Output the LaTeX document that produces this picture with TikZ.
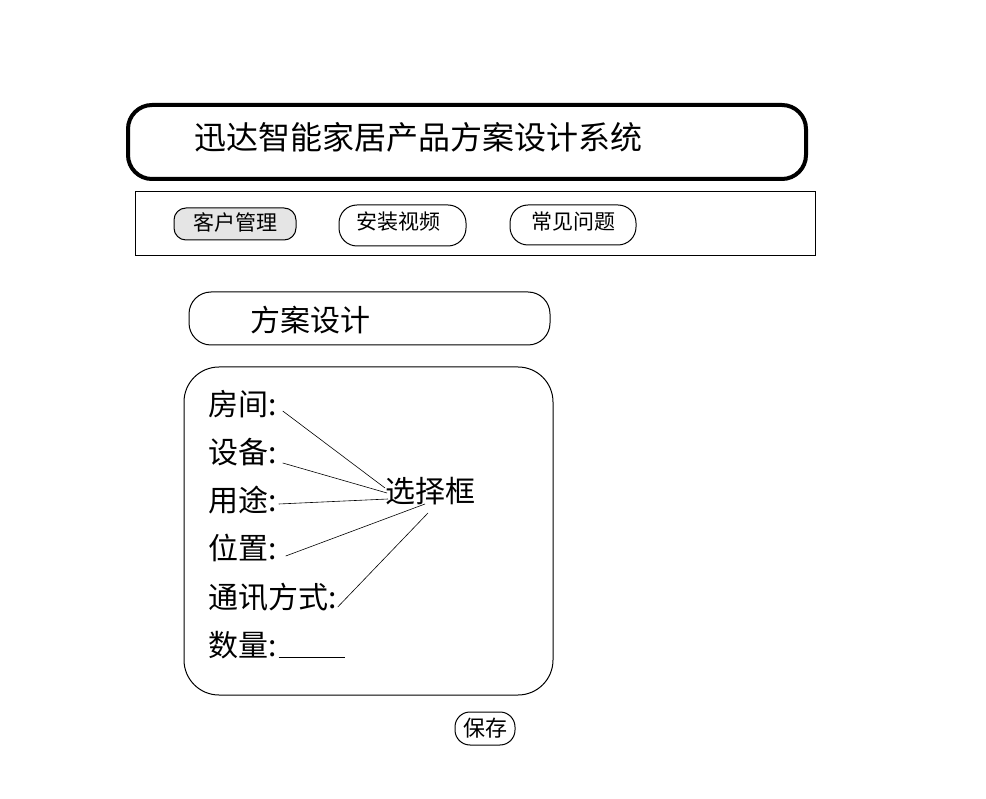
\documentclass[tikz,border=0pt]{standalone}
\usepackage{fontspec}
\newfontfamily\cjk{Noto Sans CJK SC}
\tikzset{
  btn/.style={draw=black, line width=1pt, rounded corners=#1},
  lbl/.style={font=\cjk\fontsize{30}{32}\selectfont, anchor=west, inner sep=0pt},
  link/.style={draw=black, line width=0.6pt},
}
\begin{document}
\begin{tikzpicture}[x=1pt,y=-1pt]
\useasboundingbox (0,0) rectangle (986,799);
% title
\draw[line width=4pt, rounded corners=24pt] (128,105) rectangle (806,179);
\node[anchor=west, inner sep=0pt, font=\cjk\fontsize{32}{34}\selectfont] (title) at (194,137) {迅达智能家居产品方案设计系统};
% nav bar
\draw[line width=0.8pt] (135,191) rectangle (815,255);
\draw[btn=12pt, fill=black!10] (174,208) rectangle (296,240);
\node[inner sep=0pt, font=\cjk\fontsize{21}{23}\selectfont] (b1) at (235,222) {客户管理};
\draw[btn=18pt] (339,205) rectangle (466,246);
\node[inner sep=0pt, font=\cjk\fontsize{21}{23}\selectfont] (b2) at (398,222) {安装视频};
\draw[btn=18pt] (510,205) rectangle (636,245);
\node[inner sep=0pt, font=\cjk\fontsize{21}{23}\selectfont] (b3) at (573,222) {常见问题};
% design header
\draw[btn=22pt] (189,292) rectangle (550,345);
\node[anchor=west, inner sep=0pt, font=\cjk\fontsize{30}{32}\selectfont] (hd) at (250,320) {方案设计};
% form
\draw[btn=35pt] (184,367) rectangle (553,695);
\node[lbl] (l1) at (208,404) {房间:};
\node[lbl] (l2) at (208,452) {设备:};
\node[lbl] (l3) at (208,500) {用途:};
\node[lbl] (l4) at (208,548) {位置:};
\node[lbl] (l5) at (208,597) {通讯方式:};
\node[lbl] (l6) at (208,645) {数量:};
\node[inner sep=0pt, font=\cjk\fontsize{30}{32}\selectfont] (sel) at (430,491) {选择框};
\draw[link] ([shift={(6,7)}]l1.east) -- ([shift={(-45,-3)}]sel.center);
\draw[link] ([shift={(6,11)}]l2.east) -- ([shift={(-43,2)}]sel.center);
\draw[link] ([shift={(2,4)}]l3.east) -- ([shift={(-42,8)}]sel.center);
\draw[link] ([shift={(9,8)}]l4.east) -- ([shift={(-5,13)}]sel.center);
\draw[link] ([shift={(1,10)}]l5.east) -- ([shift={(-2,22)}]sel.center);
\coordinate (u1) at (345,657);
\draw[link] ([shift={(2,12)}]l6.east) -- (u1);
% save
\draw[btn=15pt] (455,712) rectangle (515,745);
\node[inner sep=0pt, font=\cjk\fontsize{22}{24}\selectfont] (save) at (485,728) {保存};
\end{tikzpicture}
\end{document}
